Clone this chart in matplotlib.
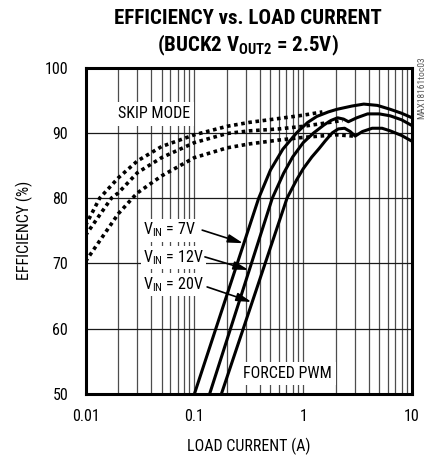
import matplotlib
matplotlib.use('Agg')
import matplotlib.pyplot as plt
from matplotlib import font_manager
from matplotlib.ticker import FixedLocator, NullFormatter

# pick a narrow sans if there is one
names = {f.name for f in font_manager.fontManager.ttflist}
font = 'Liberation Sans'
for cand in ['Liberation Sans Narrow', 'Roboto Condensed', 'Liberation Sans']:
    if cand in names:
        font = cand
        break

plt.rcParams['font.family'] = [font, 'DejaVu Sans']
plt.rcParams['mathtext.fontset'] = 'custom'
plt.rcParams['mathtext.rm'] = font
plt.rcParams['mathtext.bf'] = font + ':bold'

# skip mode (dotted) curves
skip7_x = [0.01, 0.0135, 0.02, 0.03, 0.05, 0.1, 0.2, 0.32, 0.6, 1.0, 1.5]
skip7_y = [75.8, 80.0, 83.1, 85.7, 87.9, 89.7, 91.0, 91.6, 92.2, 92.7, 93.2]
skip12_x = [0.01, 0.0173, 0.02, 0.03, 0.05, 0.1, 0.2, 0.32, 0.6, 1.0, 1.6, 2.3]
skip12_y = [74.3, 80.0, 80.8, 83.9, 86.2, 88.5, 89.9, 90.3, 90.6, 91.0, 91.5, 91.9]
skip20_x = [0.01, 0.02, 0.027, 0.03, 0.05, 0.1, 0.2, 0.32, 0.6, 1.0, 2.0, 2.9]
skip20_y = [70.3, 77.6, 80.0, 80.8, 83.4, 86.2, 87.7, 88.3, 88.9, 89.3, 89.7, 89.5]

# forced PWM (solid) curves
pwm7_x = [0.1, 0.39, 0.5, 0.65, 0.87, 1.1, 1.33, 1.7, 2.04, 2.8, 3.6, 4.8, 6.3, 8, 10]
pwm7_y = [50, 80, 84.3, 87.5, 90.0, 91.6, 92.5, 93.2, 93.6, 94.1, 94.4, 94.2, 93.6, 93.0, 92.3]
pwm12_x = [0.138, 0.52, 0.66, 0.8, 1.0, 1.25, 1.55, 1.8, 2.07, 2.35, 2.6, 3.1, 3.9, 5.0, 6.3, 8, 10]
pwm12_y = [50, 80, 83.8, 86.3, 88.5, 90.0, 91.2, 91.9, 92.3, 92.1, 91.7, 92.3, 92.9, 92.9, 92.6, 92.0, 91.1]
pwm20_x = [0.177, 0.71, 0.87, 1.0, 1.2, 1.4, 1.6, 1.85, 2.1, 2.4, 2.7, 3.0, 3.5, 4.3, 5.3, 6.3, 8, 10]
pwm20_y = [50, 80, 82.8, 84.5, 86.3, 87.6, 88.8, 90.0, 90.6, 90.7, 90.2, 89.5, 90.2, 90.7, 90.7, 90.3, 89.6, 88.7]

vin_labels = ['7V', '12V', '20V']
label_y = [75.1, 70.9, 66.8]
arrow_tail = [(0.118, 75.1), (0.125, 71.0), (0.131, 66.4)]
arrow_head = [(0.28, 73.1), (0.315, 69.0), (0.335, 64.1)]

fig = plt.figure(figsize=(4.28, 4.55), dpi=100)
ax = fig.add_axes([0.1998, 0.134, 0.763, 0.7176])

ax.set_xscale('log')
ax.set_xlim(0.01, 10)
ax.set_ylim(50, 100)
ax.xaxis.set_major_locator(FixedLocator([0.01, 0.1, 1, 10]))
ax.xaxis.set_minor_locator(FixedLocator([m * d for d in [0.01, 0.1, 1] for m in range(2, 10)]))
ax.xaxis.set_minor_formatter(NullFormatter())
ax.set_xticklabels(['0.01', '0.1', '1', '10'])
ax.set_yticks([50, 60, 70, 80, 90, 100])

ax.grid(True, which='both', axis='x', color='0.3', lw=0.9)
ax.grid(True, which='major', axis='y', color='0.1', lw=0.9)
ax.set_axisbelow(True)
ax.tick_params(which='both', length=0, labelsize=11.5)
ax.tick_params(axis='y', pad=12.5)
ax.tick_params(axis='x', pad=11)
for s in ax.spines.values():
    s.set_linewidth(2.2)
    s.set_zorder(6)

dots = (0, (1.0, 1.0))
for xs, ys in [(skip7_x, skip7_y), (skip12_x, skip12_y), (skip20_x, skip20_y)]:
    ax.plot(xs, ys, color='black', lw=2.6, linestyle=dots, zorder=4)
for xs, ys in [(pwm7_x, pwm7_y), (pwm12_x, pwm12_y), (pwm20_x, pwm20_y)]:
    ax.plot(xs, ys, color='black', lw=2.2, zorder=5, solid_capstyle='butt')

box = dict(facecolor='white', edgecolor='none', pad=1.5)
for lab, yy, tail, head in zip(vin_labels, label_y, arrow_tail, arrow_head):
    ax.text(0.0338, yy, r'V$_{\mathregular{IN}}$ = ' + lab, fontsize=11.5,
            ha='left', va='center', bbox=box, zorder=3)
    ax.annotate('', xy=head, xytext=tail,
                arrowprops=dict(arrowstyle='-|>,head_length=0.9,head_width=0.25',
                                color='black', lw=1.2, shrinkA=0, shrinkB=0),
                zorder=6)

ax.text(0.0423, 92.9, 'SKIP MODE', fontsize=11.5, ha='center', va='center',
        bbox=dict(facecolor='white', edgecolor='none', pad=3), zorder=3)
ax.text(0.72, 53.1, 'FORCED PWM', fontsize=11.5, ha='center', va='center',
        bbox=dict(facecolor='white', edgecolor='none', pad=3), zorder=3)

ax.set_xlabel('LOAD CURRENT (A)', fontsize=11.5, labelpad=10)
ax.set_ylabel('EFFICIENCY (%)', fontsize=11.5, labelpad=8)

fig.text(0.578, 0.960, 'EFFICIENCY vs. LOAD CURRENT', fontsize=15,
         fontweight='bold', ha='center', va='center')
fig.text(0.578, 0.901, r'(BUCK2 V$_{\mathbf{OUT2}}$ = 2.5V)', fontsize=15,
         fontweight='bold', ha='center', va='center')
fig.text(0.985, 0.807, 'MAX18161toc03', fontsize=6.8, color='0.35',
         rotation=90, ha='center', va='center')

fig.savefig('out.png', dpi=100)
